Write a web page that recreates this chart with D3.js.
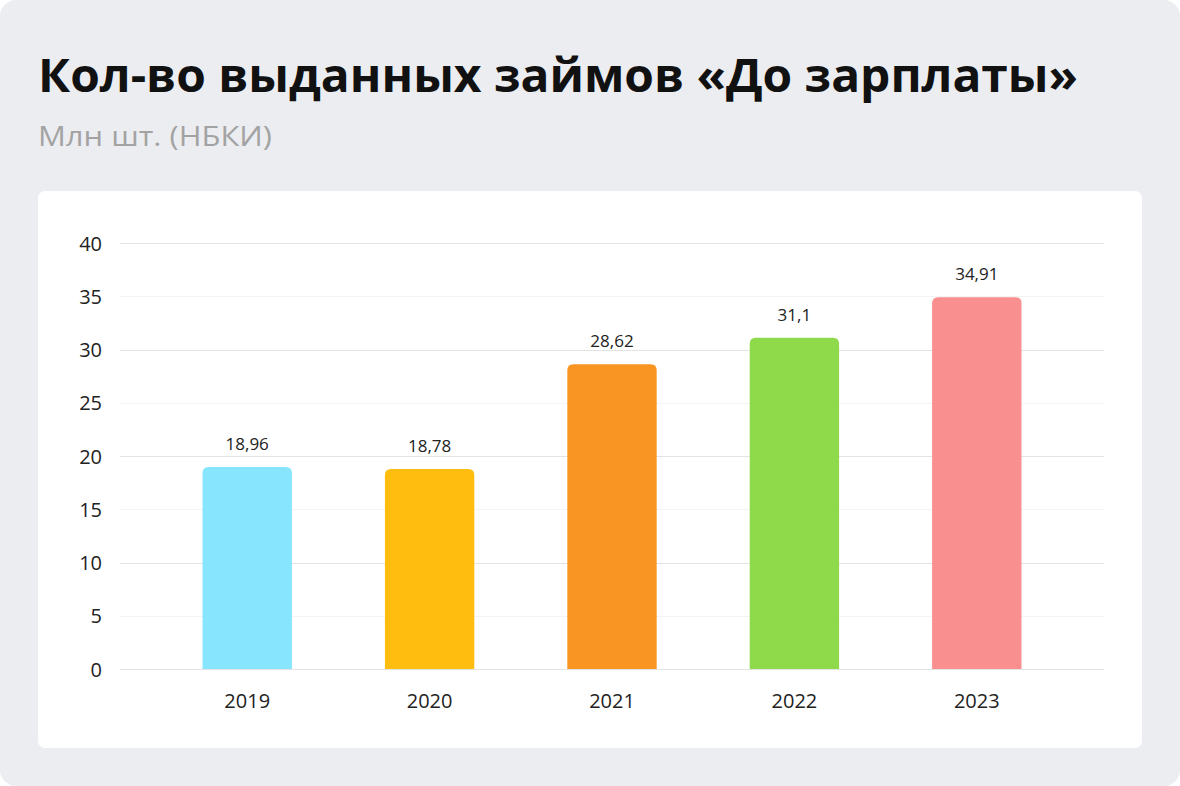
<!DOCTYPE html>
<html><head><meta charset="utf-8">
<script src="https://cdn.jsdelivr.net/npm/d3@7"></script>
<style>html,body{margin:0;padding:0;background:#fff;}svg{display:block;}</style>
</head><body>
<script>
const categories = ["2019","2020","2021","2022","2023"];
const values = [18.96, 18.78, 28.62, 31.1, 34.91];
const valueLabels = ["18,96","18,78","28,62","31,1","34,91"];
const colors = ["#87E6FD","#FEBD0F","#F99523","#8FDA4B","#F98F8F"];
const yTicks = [0,5,10,15,20,25,30,35,40];
const title = "Кол-во выданных займов «До зарплаты»";
const subtitle = "Млн шт. (НБКИ)";

const W = 1180, H = 786;
const svg = d3.select("body").append("svg").attr("width", W).attr("height", H);
const font = "'Open Sans', sans-serif";

svg.append("rect").attr("x",0).attr("y",0).attr("width",W).attr("height",H).attr("rx",16).attr("fill","#ECEDF1");
svg.append("rect").attr("x",38).attr("y",191).attr("width",1104).attr("height",557).attr("rx",7).attr("fill","#fff");

const t = svg.append("text").attr("x",38).attr("y",92).text(title)
  .attr("font-family",font).attr("font-weight",700).attr("font-size",46).attr("fill","#111");
const tw = t.node().getComputedTextLength();
if (Math.abs(tw-1040) > 10) t.attr("textLength",1040).attr("lengthAdjust","spacingAndGlyphs");
const s = svg.append("text").attr("x",38).attr("y",146).text(subtitle)
  .attr("font-family",font).attr("font-size",27).attr("fill","#A3A3A3");
const sw = s.node().getComputedTextLength();
if (Math.abs(sw-234) > 6) s.attr("textLength",234).attr("lengthAdjust","spacingAndGlyphs");

const y = d3.scaleLinear().domain([0,40]).range([669,243]);
const x = d3.scaleBand().domain(categories).range([156,1068]).paddingInner(0.51).paddingOuter(0.255);

const g = svg.append("g");
g.selectAll("line.grid").data(yTicks).enter().append("line")
  .attr("x1",120).attr("x2",1104)
  .attr("y1",d=>Math.round(y(d))+0.5).attr("y2",d=>Math.round(y(d))+0.5)
  .attr("stroke",d=> d%10===0 ? "#E3E3E3" : "#F3F3F3").attr("stroke-width",1);

const yAxis = d3.axisLeft(y).tickValues(yTicks).tickSize(0).tickPadding(0);
const ya = svg.append("g").attr("transform","translate(102,0)").call(yAxis);
ya.select(".domain").remove();
ya.selectAll("text").attr("font-family",font).attr("font-size",20).attr("fill","#222").attr("dy","0.35em");

const xAxis = d3.axisBottom(x).tickSize(0).tickPadding(0);
const xa = svg.append("g").attr("transform","translate(0,694)").call(xAxis);
xa.select(".domain").remove();
xa.selectAll("text").attr("font-family",font).attr("font-size",20).attr("fill","#222");

const r = 6;
function barPath(x0, w, yTop, yBot){
  return `M${x0},${yBot} V${yTop+r} Q${x0},${yTop} ${x0+r},${yTop} H${x0+w-r} Q${x0+w},${yTop} ${x0+w},${yTop+r} V${yBot} Z`;
}
svg.selectAll("path.bar").data(values).enter().append("path")
  .attr("d",(d,i)=>barPath(x(categories[i]), x.bandwidth(), y(d), y(0)))
  .attr("fill",(d,i)=>colors[i]);

svg.selectAll("text.val").data(values).enter().append("text")
  .attr("x",(d,i)=>x(categories[i])+x.bandwidth()/2)
  .attr("y",d=>y(d)-17)
  .attr("text-anchor","middle")
  .attr("font-family",font).attr("font-size",17).attr("fill","#222")
  .text((d,i)=>valueLabels[i]);
</script>
</body></html>
